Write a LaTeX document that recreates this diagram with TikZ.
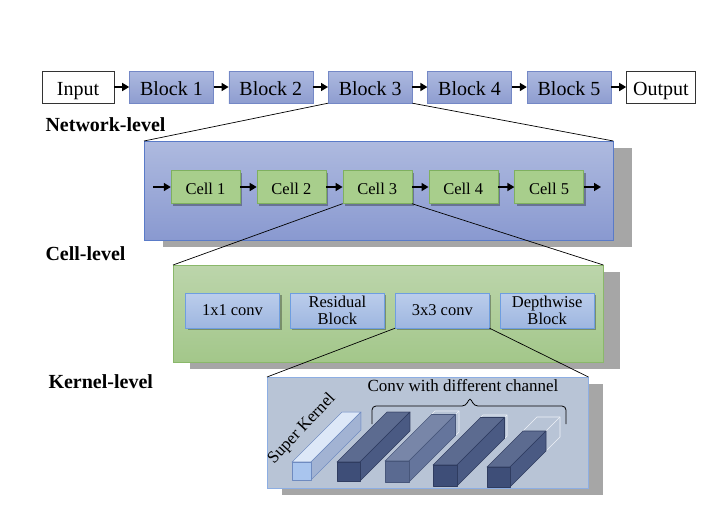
\documentclass[tikz,border=0pt]{standalone}
\usepackage{fontspec}
\setmainfont{Liberation Serif}
\usetikzlibrary{positioning, shadows, arrows.meta}
\definecolor{BlockTop}{HTML}{ADB9DF}
\definecolor{BlockBot}{HTML}{8E9DD0}
\definecolor{BlockLine}{HTML}{7488C6}
\definecolor{NetTop}{HTML}{AEBADF}
\definecolor{NetBot}{HTML}{8999D0}
\definecolor{NetLine}{HTML}{5A7BC8}
\definecolor{CellFill}{HTML}{A8CE8C}
\definecolor{CellLine}{HTML}{7FB05F}
\definecolor{CellTop}{HTML}{BCD5AB}
\definecolor{CellBot}{HTML}{A3C78A}
\definecolor{CellPLine}{HTML}{8AB86A}
\definecolor{OpTop}{HTML}{BBCDEB}
\definecolor{OpBot}{HTML}{9EB6E0}
\definecolor{OpLine}{HTML}{6E9EE0}
\definecolor{KernFill}{HTML}{B8C4D6}
\definecolor{KernLine}{HTML}{8DAEE3}
\definecolor{ShadowGray}{HTML}{A6A6A6}
\definecolor{GhostLine}{HTML}{EEF2F8}
\definecolor{skF}{HTML}{A9C5EE}
\definecolor{skT}{HTML}{DDE8F8}
\definecolor{skS}{HTML}{A2B3D3}
\definecolor{skE}{HTML}{6F8BC0}
\definecolor{kdF}{HTML}{3E4E78}
\definecolor{kdT}{HTML}{5C6B90}
\definecolor{kdS}{HTML}{4A5A83}
\definecolor{kdE}{HTML}{2F3C60}
\definecolor{kmF}{HTML}{5A6A91}
\definecolor{kmT}{HTML}{7886A8}
\definecolor{kmS}{HTML}{65759C}
\definecolor{kmE}{HTML}{47567A}
\tikzset{
  level label/.style={
    anchor=base west,
    font=\fontsize{20}{24}\selectfont\bfseries,
  },
  box default/.style={
    draw,
    inner sep=0pt,
    minimum height=32pt,
    text height=16pt,
    text depth=0pt,
    font=\fontsize{20}{24}\selectfont,
  },
  io box/.style={
    box default,
    fill=white,
    draw=black!80,
  },
  block/.style={
    box default,
    draw=BlockLine,
    top color=BlockTop,
    bottom color=BlockBot,
    minimum width=84pt,
  },
  small shadow/.style={
    drop shadow={shadow xshift=2pt, shadow yshift=-2pt, fill=black, opacity=0.3},
  },
  cell/.style={
    draw=CellLine,
    fill=CellFill,
    small shadow,
    inner sep=0pt,
    minimum width=69pt,
    minimum height=33pt,
    text height=15pt,
    text depth=0pt,
    font=\fontsize{16.5}{18}\selectfont,
  },
  op/.style={
    draw=OpLine,
    top color=OpTop,
    bottom color=OpBot,
    small shadow,
    inner sep=0pt,
    align=center,
    minimum width=94pt,
    minimum height=35pt,
    font=\fontsize{16.5}{17.5}\selectfont,
  },
  panel/.style={
    anchor=north west,
    inner sep=0pt,
    drop shadow={shadow xshift=#1, shadow yshift=-7pt, fill=ShadowGray, opacity=1},
  },
  net panel/.style={
    panel=19pt,
    draw=NetLine,
    top color=NetTop,
    bottom color=NetBot,
    minimum width=469pt,
    minimum height=99pt,
  },
  cell panel/.style={
    panel=17pt,
    draw=CellPLine,
    top color=CellTop,
    bottom color=CellBot,
    minimum width=430pt,
    minimum height=97pt,
  },
  kernel panel/.style={
    panel=15pt,
    draw=KernLine,
    fill=KernFill,
    minimum width=321pt,
    minimum height=111pt,
  },
  kernel text/.style={
    inner sep=0pt,
    font=\fontsize{17}{19}\selectfont,
  },
  flow/.style={
    line width=1.6pt,
    -{Triangle[length=7pt,width=8pt]},
  },
  zoom line/.style={
    draw=black,
    line width=0.7pt,
  },
  bar face/.style={
    line width=0.6pt,
    line join=round,
  },
  bar ghost/.style={
    draw=GhostLine,
    line width=0.6pt,
  },
  brace line/.style={
    draw=black,
    line width=0.8pt,
    rounded corners=4pt,
  },
}
\newcommand{\convbar}[6]{%
  \pgfmathsetmacro{\barfull}{50}
  \pgfmathsetmacro{\barfill}{50*#5}
  \draw[bar ghost] (#1,#2-#4) -- ++(\barfull,-\barfull) -- ++(#3,0) -- ++(0,#4) -- ++(-\barfull,\barfull);
  \draw[bar ghost] (#1+#3,#2-#4) -- ++(\barfull,-\barfull);
  \draw[bar face, draw=#6E, fill=#6T] (#1,#2-#4) -- ++(\barfill,-\barfill) -- ++(#3,0) -- ++(-\barfill,\barfill) -- cycle;
  \draw[bar face, draw=#6E, fill=#6S] (#1+#3,#2) -- ++(\barfill,-\barfill) -- ++(0,-#4) -- ++(-\barfill,\barfill) -- cycle;
  \draw[bar face, draw=#6E, fill=#6F] (#1,#2) rectangle ++(#3,-#4);
}

\begin{document}
\begin{tikzpicture}[x=1pt, y=-1pt]
  \useasboundingbox (0,0) rectangle (716,528);

  % network level
  \node[io box, minimum width=72pt] (in) at (78,87) {Input};
  \node[block, right=15pt of in] (b1) {Block 1};
  \node[block, right=15pt of b1] (b2) {Block 2};
  \node[block, right=15pt of b2] (b3) {Block 3};
  \node[block, right=15pt of b3] (b4) {Block 4};
  \node[block, right=15pt of b4] (b5) {Block 5};
  \node[io box, minimum width=69pt, right=15pt of b5] (out) {Output};
  \draw[flow] (in) -- (b1);
  \draw[flow] (b1) -- (b2);
  \draw[flow] (b2) -- (b3);
  \draw[flow] (b3) -- (b4);
  \draw[flow] (b4) -- (b5);
  \draw[flow] (b5) -- (out);
  \node[level label] (netlab) at (42,131) {Network-level};

  % cell level
  \node[net panel] (net) at (144,141) {};
  \draw[zoom line] (b3.south west) -- (net.north west);
  \draw[zoom line] (b3.south east) -- (net.north east);
  \node[cell] (c1) at (205.5,187) {Cell 1};
  \node[cell, right=16.5pt of c1] (c2) {Cell 2};
  \node[cell, right=16.5pt of c2] (c3) {Cell 3};
  \node[cell, right=16.5pt of c3] (c4) {Cell 4};
  \node[cell, right=16.5pt of c4] (c5) {Cell 5};
  \coordinate (cin) at (153,187);
  \coordinate (cout) at (601,187);
  \draw[flow] (cin) -- (c1);
  \draw[flow] (c1) -- (c2);
  \draw[flow] (c2) -- (c3);
  \draw[flow] (c3) -- (c4);
  \draw[flow] (c4) -- (c5);
  \draw[flow] (c5) -- (cout);
  \node[level label] (celllab) at (42,260) {Cell-level};

  % kernel level
  \node[cell panel] (cellp) at (173,265) {};
  \draw[zoom line] (c3.south west) -- (cellp.north west);
  \draw[zoom line] (c3.south east) -- (cellp.north east);
  \node[op] (k1) at (232.5,310.5) {1x1 conv};
  \node[op, right=10.5pt of k1] (k2) {Residual\\Block};
  \node[op, right=10.5pt of k2] (k3) {3x3 conv};
  \node[op, right=10.5pt of k3] (k4) {Depthwise\\Block};
  \node[level label] (kernlab) at (45,388) {Kernel-level};

  \node[kernel panel] (kern) at (267,377) {};
  \draw[zoom line] (k3.south west) -- (kern.north west);
  \draw[zoom line] (k3.south east) -- (kern.north east);
  \node[kernel text] (convtxt) at (463,386) {Conv with different channel};
  \draw[brace line] (372,424) -- (372,406) -- (466,406) -- (470,397) -- (474,406) -- (566,406) -- (566,424);
  \node[kernel text, rotate=47] (sktxt) at (302,429) {Super Kernel};
  \convbar{292}{480}{19}{18}{1}{sk}
  \convbar{337}{481}{23}{19}{1}{kd}
  \convbar{385}{482}{24}{21}{0.93}{km}
  \convbar{433}{486}{24}{21}{0.95}{kd}
  \convbar{487}{487}{23}{20}{0.72}{kd}
\end{tikzpicture}
\end{document}
